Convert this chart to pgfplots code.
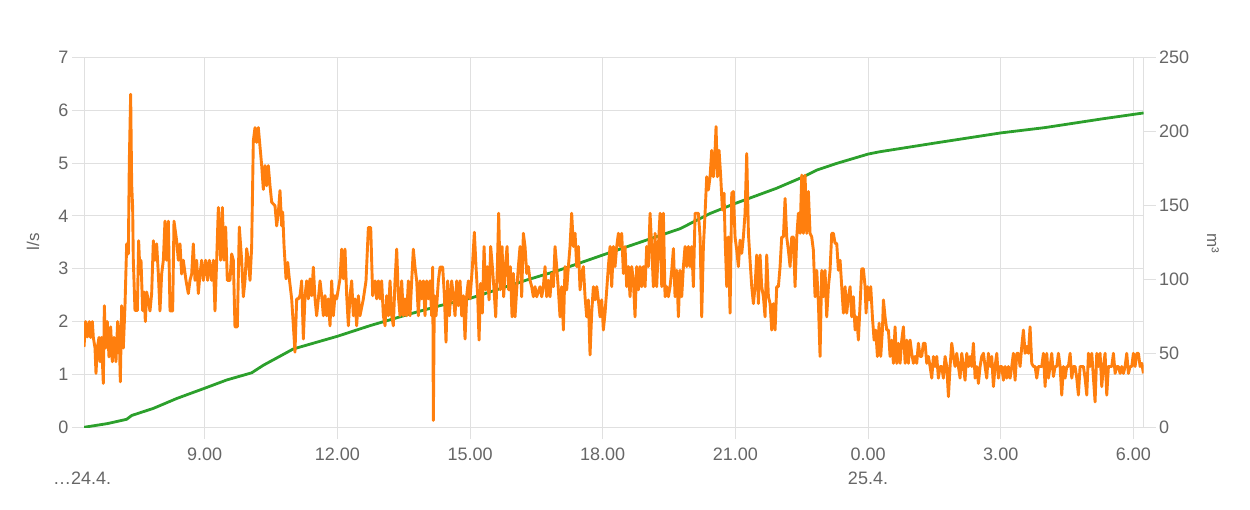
\documentclass[border=0pt]{standalone}
\usepackage{fontspec}
\setmainfont{Liberation Sans}
\usepackage{pgfplots}
\usepackage{pgfplotstable}
\pgfplotsset{compat=1.18}

\definecolor{orng}{RGB}{255,127,14}
\definecolor{grn}{RGB}{44,160,44}
\definecolor{gridc}{RGB}{224,224,224}
\definecolor{txt}{RGB}{102,102,102}

% flow in l/s, x = hours since midnight of 24.4.
\pgfplotstableread[row sep=\\]{
h v\\
6.270 1.52\\ 6.307 2.0\\ 6.345 1.71\\ 6.390 2.0\\ 6.420 1.7\\ 6.458 2.0\\ 6.481 1.7\\ 6.519 1.5\\
6.541 1.02\\ 6.571 1.5\\ 6.609 1.7\\ 6.632 1.24\\ 6.662 1.7\\ 6.707 0.83\\ 6.730 2.3\\ 6.760 1.5\\
6.797 2.0\\ 6.835 1.33\\ 6.873 1.9\\ 6.910 1.24\\ 6.948 1.7\\ 6.993 1.24\\ 7.031 2.0\\ 7.069 1.7\\
7.091 0.86\\ 7.122 2.3\\ 7.159 1.5\\ 7.197 2.3\\ 7.235 3.47\\ 7.272 3.28\\ 7.295 5.04\\ 7.325 6.3\\
7.348 4.6\\ 7.370 4.16\\ 7.385 3.16\\ 7.423 2.21\\ 7.476 2.21\\ 7.506 3.53\\ 7.536 2.9\\ 7.559 3.16\\
7.596 2.21\\ 7.627 2.56\\ 7.657 2.0\\ 7.687 2.56\\ 7.725 2.4\\ 7.762 2.2\\ 7.800 2.53\\ 7.838 3.53\\
7.875 3.16\\ 7.913 3.47\\ 7.951 2.9\\ 7.988 2.2\\ 8.026 2.9\\ 8.064 3.16\\ 8.101 3.9\\ 8.139 3.16\\
8.177 3.9\\ 8.215 2.2\\ 8.275 2.2\\ 8.305 3.9\\ 8.365 3.53\\ 8.403 3.16\\ 8.441 3.47\\ 8.478 2.9\\
8.516 3.16\\ 8.576 2.78\\ 8.629 2.53\\ 8.667 2.78\\ 8.705 2.9\\ 8.742 3.47\\ 8.780 2.78\\ 8.818 3.16\\
8.855 2.53\\ 8.893 2.9\\ 8.931 3.16\\ 8.968 2.78\\ 9.021 3.16\\ 9.066 2.78\\ 9.104 3.16\\ 9.157 2.78\\
9.195 3.16\\ 9.232 2.2\\ 9.270 3.16\\ 9.308 4.16\\ 9.360 3.16\\ 9.398 4.16\\ 9.436 3.16\\ 9.473 3.79\\
9.511 2.78\\ 9.571 2.78\\ 9.609 3.28\\ 9.647 3.16\\ 9.684 1.9\\ 9.737 1.9\\ 9.782 3.79\\ 9.835 3.16\\
9.873 2.47\\ 9.911 2.78\\ 9.948 3.38\\ 9.986 3.16\\ 10.024 2.78\\ 10.061 3.41\\ 10.099 5.42\\ 10.137 5.67\\
10.175 5.39\\ 10.212 5.67\\
10.288 4.95\\ 10.325 4.5\\ 10.363 4.95\\ 10.401 4.57\\ 10.438 4.95\\ 10.476 4.57\\ 10.514 4.26\\ 10.589 4.19\\
10.627 3.81\\ 10.665 4.07\\ 10.702 4.48\\ 10.740 3.81\\ 10.763 4.07\\ 10.793 3.44\\ 10.838 2.81\\ 10.876 3.12\\
10.913 2.81\\ 10.966 2.43\\ 11.004 1.92\\ 11.041 1.42\\ 11.079 2.43\\ 11.117 2.43\\ 11.155 2.49\\ 11.192 2.77\\
11.230 1.67\\ 11.268 2.49\\ 11.305 2.77\\ 11.343 2.43\\ 11.381 2.81\\ 11.418 2.49\\ 11.456 3.03\\ 11.494 2.43\\
11.531 2.11\\ 11.569 2.43\\ 11.607 2.77\\ 11.645 2.49\\ 11.682 2.11\\ 11.720 2.49\\ 11.758 2.11\\ 11.795 2.43\\
11.833 1.92\\ 11.871 2.77\\ 11.908 2.11\\ 11.946 2.49\\ 11.984 2.43\\ 12.059 2.81\\ 12.097 3.37\\ 12.135 2.81\\
12.172 3.37\\ 12.210 2.49\\ 12.248 1.92\\ 12.285 2.49\\ 12.323 2.77\\ 12.361 2.11\\ 12.398 2.43\\ 12.436 1.92\\
12.474 2.49\\ 12.511 2.11\\ 12.587 2.43\\ 12.647 2.77\\ 12.700 3.78\\ 12.753 3.78\\ 12.798 2.49\\ 12.851 2.77\\
12.888 2.43\\ 12.926 2.77\\ 12.964 2.43\\ 13.001 2.77\\ 13.039 2.11\\ 13.077 1.92\\ 13.114 2.49\\ 13.152 2.11\\
13.190 2.77\\ 13.228 2.11\\ 13.265 1.92\\ 13.303 2.77\\ 13.341 3.37\\ 13.378 2.49\\ 13.416 2.11\\ 13.454 2.77\\
13.491 2.11\\ 13.529 2.43\\ 13.567 2.11\\ 13.604 2.77\\ 13.642 2.11\\ 13.680 2.77\\ 13.717 3.37\\ 13.755 3.03\\
13.793 2.77\\ 13.831 2.11\\ 13.868 2.77\\ 13.906 2.43\\ 13.944 2.77\\ 13.981 2.11\\ 14.019 2.77\\ 14.057 2.43\\
14.094 2.77\\ 14.132 2.11\\ 14.155 3.03\\ 14.170 0.13\\ 14.192 2.49\\ 14.230 2.11\\ 14.283 2.77\\ 14.321 3.03\\
14.381 3.03\\ 14.419 2.49\\ 14.456 1.61\\ 14.494 2.77\\ 14.532 2.11\\ 14.584 2.77\\ 14.622 2.49\\ 14.660 2.11\\
14.698 2.77\\ 14.735 2.3\\ 14.773 2.77\\ 14.811 2.11\\ 14.848 2.49\\ 14.886 1.67\\ 14.924 2.49\\ 14.961 2.77\\
14.999 2.43\\ 15.052 3.03\\ 15.097 3.69\\ 15.135 3.03\\ 15.172 2.49\\
15.203 1.65\\ 15.240 2.72\\ 15.278 2.16\\ 15.316 3.42\\ 15.353 2.6\\ 15.391 3.04\\ 15.429 2.41\\ 15.466 3.42\\
15.504 3.04\\ 15.542 2.6\\ 15.580 2.09\\ 15.617 3.04\\ 15.647 4.05\\ 15.685 2.6\\ 15.723 3.42\\ 15.760 2.47\\
15.798 3.04\\ 15.836 3.42\\ 15.873 2.6\\ 15.911 3.04\\ 15.949 2.09\\ 15.979 2.91\\ 16.017 2.09\\ 16.054 2.6\\
16.092 3.04\\ 16.130 3.42\\ 16.167 2.47\\ 16.205 3.67\\ 16.243 3.42\\ 16.281 2.91\\ 16.318 3.04\\ 16.356 2.78\\
16.394 2.66\\ 16.431 2.47\\ 16.469 2.66\\ 16.507 2.47\\ 16.582 2.66\\ 16.620 2.47\\ 16.657 2.66\\ 16.695 3.04\\
16.733 2.47\\ 16.770 2.78\\ 16.808 2.47\\ 16.846 2.91\\ 16.884 2.66\\ 16.921 3.42\\ 16.959 3.04\\ 16.997 2.6\\
17.034 2.09\\ 17.072 2.66\\ 17.110 1.84\\ 17.147 3.04\\ 17.185 2.6\\ 17.223 3.04\\ 17.260 3.42\\ 17.298 4.05\\
17.336 3.42\\ 17.374 3.67\\ 17.411 3.04\\ 17.449 3.42\\ 17.487 2.6\\ 17.524 2.91\\ 17.562 3.04\\ 17.600 2.47\\
17.637 2.09\\ 17.675 2.41\\ 17.713 1.37\\ 17.750 2.16\\ 17.788 2.66\\ 17.826 2.41\\ 17.864 2.66\\ 17.901 2.41\\
17.939 2.09\\ 17.977 2.41\\ 18.014 1.84\\ 18.052 2.16\\ 18.090 2.6\\ 18.127 3.04\\ 18.165 3.42\\ 18.203 2.66\\
18.240 3.42\\ 18.278 3.04\\ 18.316 3.42\\ 18.354 3.67\\ 18.391 3.42\\ 18.429 3.67\\ 18.467 2.91\\ 18.504 3.42\\
18.542 2.66\\ 18.580 3.04\\ 18.617 2.47\\ 18.655 3.04\\ 18.693 2.78\\ 18.730 2.09\\ 18.768 3.04\\ 18.806 2.6\\
18.843 3.04\\ 18.881 2.66\\ 18.919 3.04\\ 18.957 2.66\\ 18.994 3.42\\ 19.032 3.04\\ 19.070 4.05\\ 19.107 3.42\\
19.145 2.66\\ 19.183 3.67\\ 19.220 2.66\\ 19.258 3.42\\
19.296 4.05\\ 19.334 2.66\\ 19.371 4.05\\ 19.409 2.47\\ 19.447 2.66\\ 19.484 2.47\\ 19.522 2.66\\ 19.560 2.97\\
19.598 3.38\\ 19.635 2.47\\ 19.673 2.97\\ 19.711 2.09\\ 19.748 2.97\\ 19.786 2.47\\ 19.824 3.04\\ 19.861 3.42\\
19.899 3.04\\ 19.937 3.42\\ 19.974 3.04\\ 20.012 3.42\\ 20.050 2.66\\ 20.088 4.05\\ 20.125 4.05\\ 20.163 4.05\\
20.201 3.6\\ 20.238 2.09\\ 20.276 3.42\\ 20.314 4.05\\ 20.351 4.74\\ 20.389 4.49\\ 20.427 4.74\\ 20.464 5.24\\
20.502 4.74\\ 20.540 5.24\\ 20.562 5.69\\ 20.593 4.74\\ 20.630 5.24\\ 20.668 4.74\\ 20.706 4.11\\ 20.743 4.43\\
20.766 3.6\\ 20.804 2.66\\ 20.841 3.6\\ 20.879 2.16\\ 20.917 4.43\\ 20.954 4.46\\ 20.992 3.6\\ 21.030 3.35\\
21.067 3.04\\ 21.105 3.54\\ 21.143 3.29\\ 21.180 3.6\\ 21.218 4.05\\ 21.256 5.18\\ 21.294 3.67\\ 21.331 3.16\\
21.369 2.66\\ 21.407 2.34\\ 21.444 2.66\\ 21.482 3.26\\ 21.520 2.34\\ 21.557 3.26\\ 21.595 2.66\\ 21.633 2.47\\
21.670 2.09\\ 21.708 3.26\\ 21.746 2.47\\ 21.784 2.34\\ 21.821 1.84\\ 21.859 2.34\\ 21.897 1.84\\ 21.934 2.66\\
21.972 2.66\\ 22.010 3.04\\ 22.047 3.6\\ 22.085 3.6\\ 22.123 4.33\\ 22.160 3.6\\ 22.198 3.35\\ 22.236 3.04\\
22.274 3.6\\ 22.311 3.6\\ 22.349 2.66\\ 22.387 3.6\\ 22.424 4.05\\ 22.462 3.67\\ 22.500 4.77\\ 22.537 3.67\\
22.575 4.77\\ 22.613 3.67\\ 22.650 4.46\\ 22.688 3.67\\ 22.726 3.6\\ 22.763 3.35\\ 22.801 2.47\\ 22.839 2.97\\
22.877 2.34\\ 22.914 1.34\\ 22.952 2.97\\ 22.990 2.47\\ 23.027 2.97\\ 23.065 2.09\\ 23.103 2.66\\ 23.140 2.97\\
23.178 3.67\\ 23.216 3.67\\ 23.253 3.48\\ 23.291 3.48\\ 23.329 2.97\\ 23.367 3.16\\ 23.404 2.66\\ 23.442 2.16\\
23.480 2.66\\ 23.517 2.16\\ 23.555 2.47\\ 23.593 2.66\\ 23.630 2.09\\ 23.668 2.47\\ 23.706 1.84\\ 23.743 2.09\\
23.781 1.65\\
23.857 3.0\\ 23.894 3.0\\ 23.932 2.66\\ 23.955 2.16\\ 23.985 2.66\\ 24.023 2.41\\ 24.060 2.66\\ 24.098 2.09\\
24.136 1.65\\ 24.173 1.84\\ 24.211 1.34\\ 24.249 1.97\\ 24.286 1.34\\ 24.324 1.84\\ 24.347 2.41\\ 24.384 2.09\\
24.422 1.84\\ 24.460 1.84\\ 24.497 1.34\\ 24.535 1.65\\ 24.573 1.21\\ 24.610 1.9\\ 24.648 1.21\\ 24.686 1.59\\
24.724 1.21\\ 24.761 1.65\\ 24.799 1.9\\ 24.837 1.21\\ 24.874 1.65\\ 24.912 1.21\\ 24.950 1.65\\ 24.987 1.4\\
25.025 1.21\\ 25.063 1.34\\ 25.100 1.21\\ 25.138 1.59\\ 25.176 1.34\\ 25.213 1.34\\ 25.251 1.59\\ 25.289 1.59\\
25.327 1.21\\ 25.364 1.34\\ 25.402 1.15\\ 25.440 0.93\\ 25.477 1.34\\ 25.515 1.15\\ 25.553 1.34\\ 25.590 0.93\\
25.628 1.15\\ 25.666 1.15\\ 25.703 0.93\\ 25.741 1.34\\ 25.779 1.15\\ 25.817 0.58\\ 25.854 1.15\\ 25.892 1.59\\
25.930 1.34\\ 25.967 1.15\\ 26.005 1.4\\ 26.043 1.15\\ 26.080 0.93\\ 26.118 1.4\\ 26.156 1.15\\ 26.193 0.89\\
26.231 1.4\\ 26.269 1.15\\ 26.307 1.34\\ 26.344 1.15\\ 26.382 1.59\\ 26.420 0.93\\ 26.457 1.15\\ 26.495 0.83\\
26.533 1.15\\ 26.570 1.34\\ 26.608 1.4\\ 26.646 1.15\\ 26.683 0.93\\ 26.721 1.4\\ 26.759 1.15\\ 26.796 1.34\\
26.834 0.77\\ 26.872 1.15\\ 26.910 1.4\\ 26.947 0.93\\ 26.985 1.15\\ 27.023 1.15\\ 27.060 0.89\\ 27.098 1.15\\
27.136 0.93\\ 27.173 1.15\\ 27.211 0.93\\ 27.249 1.15\\ 27.286 1.4\\ 27.324 0.89\\ 27.362 1.4\\ 27.400 1.4\\
27.437 1.15\\ 27.475 1.53\\ 27.513 1.84\\ 27.550 1.4\\ 27.588 1.53\\ 27.626 1.4\\ 27.663 1.9\\ 27.701 1.21\\
27.739 1.15\\ 27.776 1.15\\ 27.814 0.93\\ 27.852 1.15\\ 27.890 1.15\\ 27.927 1.15\\ 27.965 1.4\\ 28.003 0.77\\
28.040 1.4\\ 28.078 0.93\\ 28.116 1.15\\ 28.153 1.4\\ 28.191 0.96\\ 28.229 1.15\\ 28.266 1.15\\ 28.304 1.4\\
28.342 1.15\\ 28.379 0.61\\ 28.417 1.15\\ 28.455 0.93\\ 28.493 1.15\\ 28.530 1.15\\ 28.568 1.4\\ 28.606 0.93\\
28.643 1.15\\ 28.681 1.15\\ 28.719 0.93\\ 28.756 0.61\\ 28.794 1.15\\ 28.832 1.15\\ 28.869 1.15\\ 28.907 0.93\\
28.945 0.61\\ 28.983 1.4\\ 29.020 1.15\\ 29.058 1.4\\ 29.096 0.93\\ 29.133 0.48\\ 29.171 1.4\\ 29.209 1.15\\
29.246 1.4\\ 29.284 0.77\\ 29.322 1.15\\ 29.359 1.4\\ 29.397 0.61\\ 29.435 1.15\\ 29.473 1.15\\ 29.510 1.15\\
29.548 1.4\\ 29.586 1.02\\ 29.623 1.15\\ 29.661 1.15\\ 29.699 1.02\\ 29.736 1.15\\ 29.774 1.02\\ 29.812 1.15\\
29.849 1.4\\ 29.887 1.02\\ 29.925 1.15\\ 29.962 1.15\\ 30.000 1.4\\ 30.038 1.15\\ 30.076 1.4\\ 30.113 1.4\\
30.151 1.15\\ 30.189 1.21\\ 30.226 1.02\\
}\flowtab

% cumulative volume in m3
\pgfplotstableread[row sep=\\]{
h v\\
6.27 0\\ 6.80 2.5\\ 7.235 5.4\\ 7.35 8.0\\ 7.84 12.8\\ 8.37 19.5\\ 8.99 26.3\\ 9.50 32.0\\
10.06 36.8\\ 10.33 42.0\\ 10.70 48.0\\ 11.00 52.9\\ 12.00 61.5\\ 12.74 68.7\\ 13.64 76.6\\ 14.32 82.2\\
15.01 87.2\\ 16.28 99.5\\ 17.00 106.0\\ 18.00 116.4\\ 19.00 126.6\\ 19.75 134.2\\ 20.43 144.5\\ 21.00 151.3\\
21.93 161.5\\ 22.54 169.3\\ 22.84 173.8\\ 23.29 178.3\\ 24.00 184.6\\ 24.27 186.2\\ 25.50 192.0\\ 27.00 198.9\\
28.00 202.5\\ 29.25 208.2\\ 30.23 212.4\\
}\voltab

\pgfplotsset{
  base/.style={
    scale only axis, width=1059.6pt, height=370pt,
    at={(84pt,82.7pt)}, anchor=south west,
    xmin=6.27, xmax=30.23,
    tick label style={font=\fontsize{18}{21}\selectfont, text=txt},
    /pgf/number format/assume math mode=true,
    axis line style={draw=gridc, line width=1pt},
    tick style={draw=gridc, line width=1pt},
    tick align=outside, major tick length=12pt,
  },
}

\begin{document}
\begin{tikzpicture}
\path[use as bounding box] (0,0) rectangle (1250pt,510pt);

% grid and left/bottom axes
\begin{axis}[base,
  ymin=0, ymax=7, ytick={0,...,7},
  xtick={9,12,...,30},
  xticklabels={9.00,12.00,15.00,18.00,21.00,0.00,3.00,6.00},
  xticklabel style={yshift=-5pt},
  xtick pos=bottom, ytick pos=left,
  grid=major, major grid style={draw=gridc, line width=1pt},
]
\end{axis}

% volume, right axis
\begin{axis}[base,
  ymin=0, ymax=250, ytick={0,50,...,250},
  axis y line*=right, axis x line=none,
]
\addplot[grn, line width=2.8pt, line join=round] table[x=h, y=v] {\voltab};
\end{axis}

% flow on top
\begin{axis}[base, ymin=0, ymax=7, hide axis]
\addplot[orng, line width=2.9pt, line join=round] table[x=h, y=v] {\flowtab};
\end{axis}

\node[rotate=90, text=txt, font=\fontsize{17}{20}\selectfont] at (33pt,268pt) {l/s};
\node[rotate=-90, text=txt, font=\fontsize{17}{20}\selectfont] at (1213pt,267pt) {m³};
\node[anchor=west, text=txt, font=\fontsize{18}{21}\selectfont, inner sep=0pt] at (53pt,32pt) {…24.4.};
\node[text=txt, font=\fontsize{18}{21}\selectfont, inner sep=0pt] at (868pt,32pt) {25.4.};
\end{tikzpicture}
\end{document}
